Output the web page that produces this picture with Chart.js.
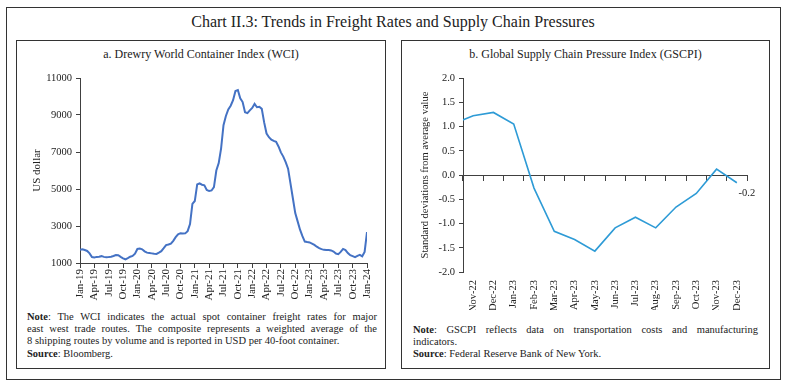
<!DOCTYPE html>
<html>
<head>
<meta charset="utf-8">
<script src="https://cdn.jsdelivr.net/npm/chart.js@4.4.1/dist/chart.umd.min.js"></script>
<style>
  body { margin: 0; width: 786px; height: 384px; background: #fff; position: relative; overflow: hidden;
         font-family: 'Liberation Serif', serif; color: #222; }
  .box { position: absolute; box-sizing: border-box; border: 1px solid #333; }
  #title { position: absolute; left: 0; top: 12px; width: 786px; text-align: center; font-size: 16px; line-height: 20px; }
  .ptitle { position: absolute; top: 46px; text-align: center; font-size: 12px; line-height: 16px; }
  canvas { position: absolute; }
  .note { position: absolute; font-size: 10.5px; line-height: 12.2px; }
  .note .j { text-align: justify; text-align-last: justify; }
  .note b { font-weight: bold; }
</style>
</head>
<body>
<div class="box" style="left:6px;top:7px;width:775px;height:373px;"></div>
<div id="title">Chart II.3: Trends in Freight Rates and Supply Chain Pressures</div>

<div class="box" style="left:16px;top:40px;width:370px;height:329px;"></div>
<div class="ptitle" style="left:16px;width:370px;">a. Drewry World Container Index (WCI)</div>
<canvas id="wci" width="370" height="245" style="left:16px;top:60px;"></canvas>
<div class="note" style="left:27px;top:311px;width:350px;">
  <div class="j"><b>Note</b>: The WCI indicates the actual spot container freight rates for major</div>
  <div class="j">east west trade routes. The composite represents a weighted average of the</div>
  <div>8 shipping routes by volume and is reported in USD per 40-foot container.</div>
  <div><b>Source</b>: Bloomberg.</div>
</div>

<div class="box" style="left:401px;top:40px;width:369px;height:329px;"></div>
<div class="ptitle" style="left:401px;width:369px;">b. Global Supply Chain Pressure Index (GSCPI)</div>
<canvas id="gscpi" width="369" height="250" style="left:401px;top:60px;"></canvas>
<div class="note" style="left:413px;top:324px;width:345px;">
  <div class="j"><b>Note</b>: GSCPI reflects data on transportation costs and manufacturing</div>
  <div>indicators.</div>
  <div><b>Source</b>: Federal Reserve Bank of New York.</div>
</div>

<script>
// Drewry WCI, USD per 40ft container, read every half month from Jan-19 to Jan-24
const wciStep = 0.5; // months between readings
const wciValues = [
  1720, 1740, 1700, 1650, 1520, 1320, 1300, 1330, 1340, 1370,
  1330, 1310, 1320, 1340, 1380, 1430, 1420, 1330, 1250, 1200,
  1260, 1340, 1380, 1500, 1760, 1780, 1740, 1630, 1560, 1540,
  1520, 1500, 1490, 1560, 1640, 1800, 1970, 2000, 2050, 2200,
  2400, 2550, 2610, 2590, 2600, 2720, 3100, 4200, 4350, 5250,
  5300, 5230, 5200, 4950, 4890, 4920, 5100, 6000, 6400, 7200,
  8450, 8950, 9300, 9500, 9800, 10300, 10350, 9900, 9700, 9150,
  9100, 9250, 9380, 9600, 9420, 9440, 9330, 8600, 8000, 7800,
  7670, 7600, 7550, 7300, 6980, 6750, 6450, 6100, 5300, 4500,
  3700, 3250, 2800, 2450, 2160, 2130, 2110, 2050, 1980, 1880,
  1800, 1750, 1710, 1700, 1700, 1680, 1620, 1510, 1480, 1600,
  1760, 1700, 1540, 1420, 1370, 1320, 1390, 1440, 1360, 1600,
  2670
];
const wciTickLabels = [
  'Jan-19', 'Apr-19', 'Jul-19', 'Oct-19', 'Jan-20', 'Apr-20', 'Jul-20', 'Oct-20',
  'Jan-21', 'Apr-21', 'Jul-21', 'Oct-21', 'Jan-22', 'Apr-22', 'Jul-22', 'Oct-22',
  'Jan-23', 'Apr-23', 'Jul-23', 'Oct-23', 'Jan-24'
];

// GSCPI, standard deviations; Oct-22 sits just off the left edge of the plot
const gscpiMonths = [
  'Oct-22', 'Nov-22', 'Dec-22', 'Jan-23', 'Feb-23', 'Mar-23', 'Apr-23', 'May-23',
  'Jun-23', 'Jul-23', 'Aug-23', 'Sep-23', 'Oct-23', 'Nov-23', 'Dec-23'
];
const gscpiValues = [1.05, 1.22, 1.29, 1.05, -0.27, -1.16, -1.33, -1.57, -1.09, -0.87, -1.09, -0.66, -0.38, 0.12, -0.16];

Chart.defaults.font.family = "'Liberation Serif', serif";
Chart.defaults.color = '#333';

const axisColor = '#404040';

new Chart(document.getElementById('wci'), {
  type: 'line',
  data: {
    datasets: [{
      data: wciValues.map((v, i) => ({ x: i * wciStep, y: v })),
      borderColor: '#4472c4',
      borderWidth: 2,
      pointRadius: 0,
      tension: 0
    }]
  },
  options: {
    responsive: false,
    animation: false,
    layout: { padding: { top: 18, right: 19, left: 0, bottom: 0 } },
    plugins: { legend: { display: false }, tooltip: { enabled: false } },
    scales: {
      x: {
        type: 'linear', min: 0, max: 60,
        afterBuildTicks: s => { s.ticks = wciTickLabels.map((_, i) => ({ value: i * 3 })); },
        afterFit: s => { s.height = 42; },
        ticks: {
          autoSkip: false, minRotation: 90, maxRotation: 90, padding: 1,
          font: { size: 11 }, color: '#222',
          callback: v => wciTickLabels[Math.round(v / 3)]
        },
        grid: { drawOnChartArea: false, tickLength: 5, color: axisColor },
        border: { color: axisColor }
      },
      y: {
        min: 1000, max: 11000,
        afterFit: s => { s.width = 64; },
        ticks: { stepSize: 2000, padding: 4, font: { size: 10.5 }, color: '#222', callback: v => String(v) },
        grid: { drawOnChartArea: false, tickLength: 4, color: axisColor },
        border: { color: axisColor },
        title: { display: true, text: 'US dollar', font: { size: 11 }, color: '#222', padding: { top: 15, bottom: 0 } }
      }
    }
  }
});

const lastLabel = {
  id: 'lastLabel',
  afterDatasetsDraw(chart) {
    const pts = chart.getDatasetMeta(0).data;
    const p = pts[pts.length - 1];
    const ctx = chart.ctx;
    ctx.save();
    ctx.font = "10.5px 'Liberation Serif', serif";
    ctx.fillStyle = '#222';
    ctx.textAlign = 'center';
    ctx.textBaseline = 'middle';
    ctx.fillText(gscpiValues[gscpiValues.length - 1].toFixed(1), p.x + 10, p.y + 10);
    ctx.restore();
  }
};

new Chart(document.getElementById('gscpi'), {
  type: 'line',
  data: {
    labels: gscpiMonths,
    datasets: [{
      data: gscpiValues,
      borderColor: '#2e9bd6',
      borderWidth: 1.6,
      pointRadius: 0,
      tension: 0,
      xAxisID: 'x'
    }]
  },
  options: {
    responsive: false,
    animation: false,
    layout: { padding: { top: 18, right: 23, left: 0, bottom: 0 } },
    plugins: { legend: { display: false }, tooltip: { enabled: false } },
    scales: {
      x: {
        type: 'category', min: 'Nov-22', offset: true,
        afterFit: s => { s.height = 38; },
        ticks: { autoSkip: false, minRotation: 90, maxRotation: 90, padding: 8, font: { size: 10.5 }, color: '#222' },
        grid: { display: false, drawTicks: false },
        border: { display: false }
      },
      x0: {
        type: 'category', labels: gscpiMonths, min: 'Nov-22', offset: true,
        position: { y: 0 },
        ticks: { display: false },
        grid: { drawOnChartArea: false, offset: true, tickLength: 5, color: axisColor },
        border: { color: axisColor }
      },
      y: {
        min: -2, max: 2,
        afterFit: s => { s.width = 62; },
        ticks: { stepSize: 0.5, padding: 4, font: { size: 10.5 }, color: '#222', callback: v => v.toFixed(1) },
        grid: { drawOnChartArea: false, tickLength: 4, color: axisColor },
        border: { color: axisColor },
        title: { display: true, text: 'Standard deviations from average value', font: { size: 10.5 }, color: '#222', padding: { top: 18, bottom: 0 } }
      }
    }
  },
  plugins: [lastLabel]
});
</script>
</body>
</html>
